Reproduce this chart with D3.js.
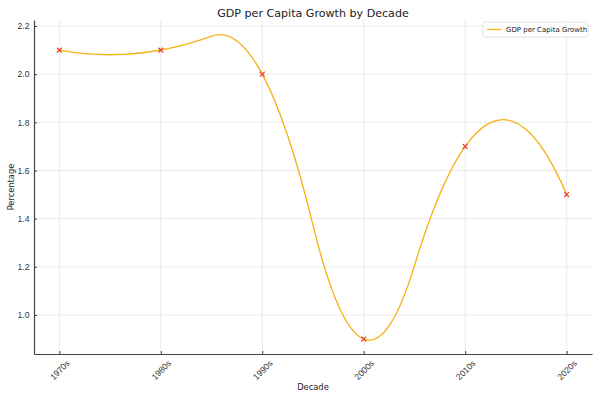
<!DOCTYPE html>
<html>
<head>
<meta charset="utf-8">
<script src="https://cdn.jsdelivr.net/npm/d3@7"></script>
<style>
  html, body { margin: 0; padding: 0; background: #fff; }
  svg { display: block; font-family: "DejaVu Sans", sans-serif; }
</style>
</head>
<body>
<div id="chart"></div>
<script>
const decades = ["1970s", "1980s", "1990s", "2000s", "2010s", "2020s"];
const growth = [2.1, 2.1, 2.0, 0.9, 1.7, 1.5];
const yTicks = [1.0, 1.2, 1.4, 1.6, 1.8, 2.0, 2.2];
const title = "GDP per Capita Growth by Decade";
const seriesName = "GDP per Capita Growth";

// ---- Custom d3 curve: interpolating quadratic B-spline (knots at interior midpoints) ----
function solveLinear(A, b) {
  const n = b.length;
  for (let c = 0; c < n; c++) {
    let p = c;
    for (let r = c + 1; r < n; r++) if (Math.abs(A[r][c]) > Math.abs(A[p][c])) p = r;
    [A[c], A[p]] = [A[p], A[c]]; [b[c], b[p]] = [b[p], b[c]];
    for (let r = c + 1; r < n; r++) {
      const f = A[r][c] / A[c][c];
      for (let k = c; k < n; k++) A[r][k] -= f * A[c][k];
      b[r] -= f * b[c];
    }
  }
  const x = new Array(n).fill(0);
  for (let r = n - 1; r >= 0; r--) {
    let s = b[r];
    for (let k = r + 1; k < n; k++) s -= A[r][k] * x[k];
    x[r] = s / A[r][r];
  }
  return x;
}
function basis(i, k, t, u) {
  if (k === 0) {
    const last = t[t.length - 1];
    if (t[i] <= u && u < t[i + 1]) return 1;
    if (u === last && t[i] < t[i + 1] && t[i + 1] === last) return 1;
    return 0;
  }
  let v = 0;
  const d1 = t[i + k] - t[i], d2 = t[i + k + 1] - t[i + 1];
  if (d1 > 0) v += (u - t[i]) / d1 * basis(i, k - 1, t, u);
  if (d2 > 0) v += (t[i + k + 1] - u) / d2 * basis(i + 1, k - 1, t, u);
  return v;
}
function QuadSpline(context) { this._context = context; }
QuadSpline.prototype = {
  areaStart() { this._line = 0; },
  areaEnd() { this._line = NaN; },
  lineStart() { this._x = []; this._y = []; },
  lineEnd() {
    const xs = this._x, ys = this._y, m = xs.length, ctx = this._context;
    if (m) {
      this._line ? ctx.lineTo(xs[0], ys[0]) : ctx.moveTo(xs[0], ys[0]);
      if (m < 3) {
        for (let i = 1; i < m; i++) ctx.lineTo(xs[i], ys[i]);
      } else {
        const n = m - 1, k = 2;
        const mids = d3.range(n).map(j => j + 0.5).slice(1, -1);
        const t = [0, 0, 0, ...mids, n, n, n];
        const A = d3.range(m).map(j => d3.range(m).map(i => basis(i, k, t, j)));
        const cx = solveLinear(A.map(r => r.slice()), xs.slice());
        const cy = solveLinear(A.map(r => r.slice()), ys.slice());
        const S = (c, u) => c.reduce((s, ci, i) => s + ci * basis(i, k, t, u), 0);
        const breaks = [0, ...mids, n];
        for (let b = 0; b < breaks.length - 1; b++) {
          const a0 = breaks[b], a1 = breaks[b + 1], am = (a0 + a1) / 2;
          const x0 = S(cx, a0), xm = S(cx, am), x1 = S(cx, a1);
          const y0 = S(cy, a0), ym = S(cy, am), y1 = S(cy, a1);
          ctx.quadraticCurveTo(2 * xm - (x0 + x1) / 2, 2 * ym - (y0 + y1) / 2, x1, y1);
        }
      }
    }
    if (this._line || (this._line !== 0 && m === 1)) ctx.closePath();
    this._line = 1 - this._line;
    this._x = this._y = null;
  },
  point(x, y) { this._x.push(+x); this._y.push(+y); }
};
const curveQuadSpline = context => new QuadSpline(context);

// ---- chart ----
const W = 600, H = 400;
const margin = { left: 34, right: 8, top: 20, bottom: 46 };
const iw = W - margin.left - margin.right;
const ih = H - margin.top - margin.bottom;

const svg = d3.select("#chart").append("svg").attr("width", W).attr("height", H);
const g = svg.append("g").attr("transform", `translate(${margin.left},${margin.top})`);

const x = d3.scaleLinear().domain([-0.25, decades.length - 1 + 0.25]).range([0, iw]);
const y = d3.scaleLinear().domain([0.838, 2.225]).range([ih, 0]);

// grid
g.append("g").selectAll("line").data(yTicks).join("line")
  .attr("x1", 0).attr("x2", iw)
  .attr("y1", d => y(d)).attr("y2", d => y(d))
  .attr("stroke", "#e3e3e3").attr("stroke-width", 0.8);
g.append("g").selectAll("line").data(decades).join("line")
  .attr("x1", (d, i) => x(i)).attr("x2", (d, i) => x(i))
  .attr("y1", 0).attr("y2", ih)
  .attr("stroke", "#e3e3e3").attr("stroke-width", 0.8);

// axes
const yAxis = d3.axisLeft(y).tickValues(yTicks).tickFormat(d3.format(".1f")).tickSizeInner(-3).tickSizeOuter(0).tickPadding(4.5);
const yg = g.append("g").call(yAxis);
const xAxis = d3.axisBottom(x).tickValues(d3.range(decades.length)).tickFormat(i => decades[i]).tickSizeInner(-3).tickSizeOuter(0);
const xg = g.append("g").attr("transform", `translate(0,${ih})`).call(xAxis);

[yg, xg].forEach(a => {
  a.select(".domain").attr("stroke", "#444").attr("stroke-width", 1.2);
  a.selectAll(".tick line").attr("stroke", "#444");
  a.selectAll(".tick text").attr("fill", "#333").attr("font-size", 8.6);
});
xg.selectAll(".tick text")
  .attr("y", null).attr("dy", null)
  .attr("text-anchor", "middle")
  .attr("dominant-baseline", "central")
  .attr("transform", "translate(0,16) rotate(-45)");

// line
const line = d3.line().x((d, i) => x(i)).y(d => y(d)).curve(curveQuadSpline);
g.append("path").datum(growth)
  .attr("d", line)
  .attr("fill", "none")
  .attr("stroke", "#f5b012")
  .attr("stroke-width", 1.3);

// markers
const s = 2.4;
g.append("g").selectAll("path").data(growth).join("path")
  .attr("d", (d, i) => {
    const cx = x(i), cy = y(d);
    return `M${cx - s},${cy - s}L${cx + s},${cy + s}M${cx - s},${cy + s}L${cx + s},${cy - s}`;
  })
  .attr("stroke", "#e8412c").attr("stroke-width", 1.2).attr("fill", "none");

// title & labels
svg.append("text").attr("x", margin.left + iw / 2).attr("y", 17)
  .attr("text-anchor", "middle").attr("font-size", 11.1).attr("fill", "#222").text(title);
svg.append("text").attr("x", margin.left + iw / 2).attr("y", 390)
  .attr("text-anchor", "middle").attr("font-size", 8.3).attr("fill", "#222").text("Decade");
svg.append("text").attr("transform", `translate(14,${margin.top + ih / 2}) rotate(-90)`)
  .attr("text-anchor", "middle").attr("font-size", 8.3).attr("fill", "#222").text("Percentage");

// legend
const lg = svg.append("g").attr("transform", "translate(483,22)");
lg.append("rect").attr("width", 105).attr("height", 15).attr("rx", 2)
  .attr("fill", "#fff").attr("fill-opacity", 0.8).attr("stroke", "#ddd").attr("stroke-width", 0.8);
lg.append("line").attr("x1", 4).attr("x2", 18).attr("y1", 7.5).attr("y2", 7.5)
  .attr("stroke", "#f5b012").attr("stroke-width", 1.3);
lg.append("text").attr("x", 23).attr("y", 7.5).attr("dominant-baseline", "central")
  .attr("font-size", 7).attr("fill", "#222").text(seriesName);
</script>
</body>
</html>
